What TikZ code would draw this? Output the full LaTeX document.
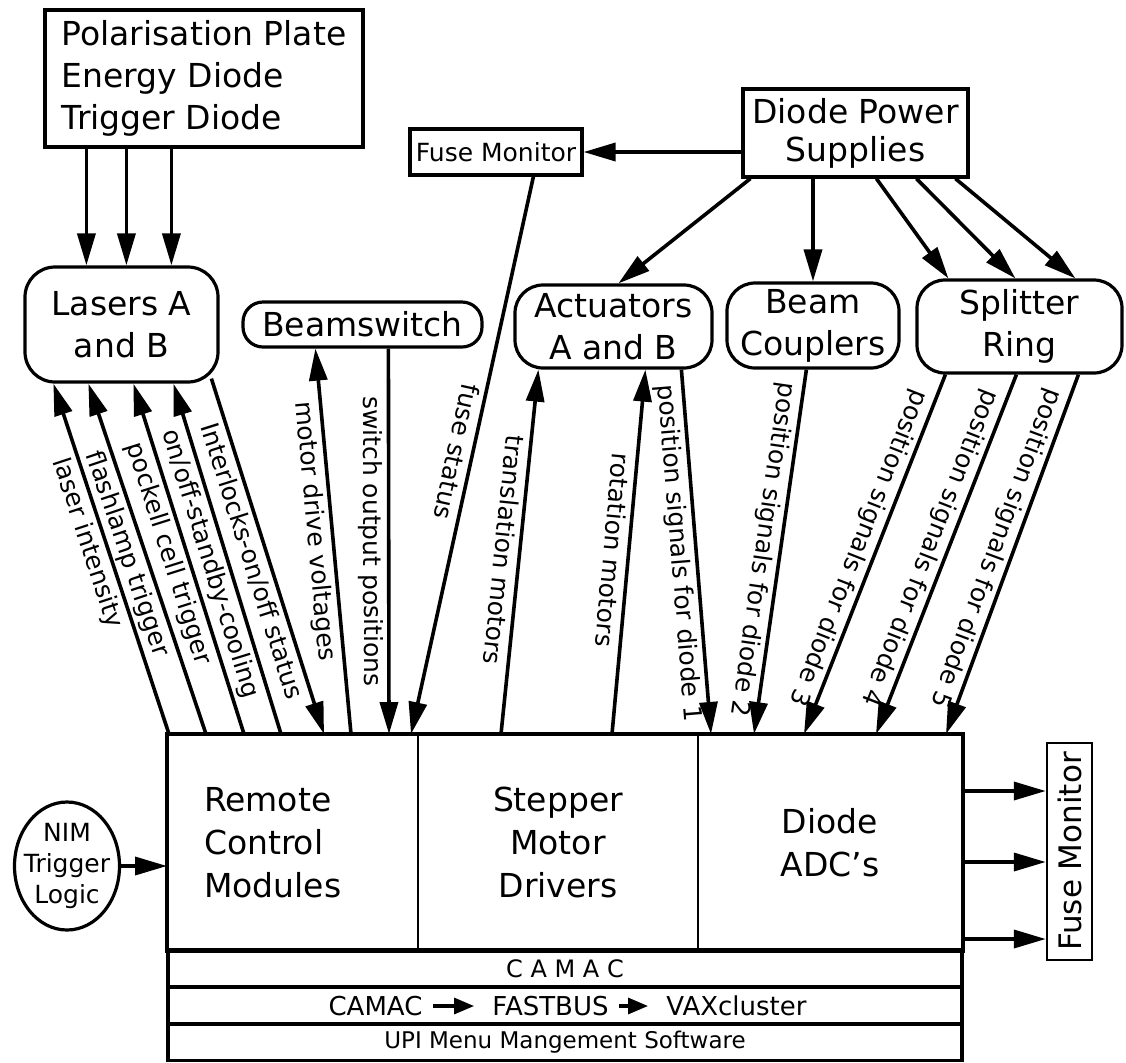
\documentclass[tikz,border=0pt]{standalone}
\usepackage{fontspec}
\setmainfont{DejaVu Sans}
\usetikzlibrary{shapes,arrows.meta,calc,positioning}

\begin{document}
\begin{tikzpicture}[x=0.5pt, y=-0.5pt,
    >={Triangle[length=16pt,width=9pt]},
    box/.style={draw, line width=1.6pt, inner sep=0pt, align=center, font=\fontsize{16.5}{21}\selectfont},
    unit/.style={box, rounded corners=14pt},
    slot/.style={draw, line width=1pt, inner sep=0pt, minimum height=107.5pt, align=center, font=\fontsize{16.5}{21.5}\selectfont},
    bar/.style={draw, line width=1.6pt, inner sep=0pt, minimum width=397pt, minimum height=18.5pt, font=\fontsize{12}{14}\selectfont},
    busname/.style={inner sep=2pt, font=\fontsize{13}{14}\selectfont},
    busarrow/.style={line width=1.6pt, -{Triangle[length=10pt,width=8pt]}, shorten <=3pt, shorten >=7pt},
    sig/.style={line width=1.8pt},
    tag/.style={midway, sloped, allow upside down, below, inner sep=2pt, font=\fontsize{12.5}{14}\selectfont}]

    \useasboundingbox (0,0) rectangle (1126,1062);

    \node[box, align=left, minimum width=159pt, minimum height=68.5pt] (sensors) at (204,78.5) {Polarisation Plate\\Energy Diode\\Trigger Diode};
    \node[box, minimum width=86pt, minimum height=23pt, font=\fontsize{12.5}{14}\selectfont] (fusetop) at (496,152) {Fuse Monitor};
    \node[box, minimum width=112.5pt, minimum height=44pt, font=\fontsize{16.5}{19}\selectfont] (dps) at (855.5,133) {Diode Power\\Supplies};

    \node[unit, rounded corners=15pt, minimum width=96.5pt, minimum height=57.5pt] (lasers) at (121.5,324.5) {Lasers A\\and B};
    \node[unit, rounded corners=10pt, minimum width=119.5pt, minimum height=22.5pt] (bswitch) at (362.5,324.5) {Beamswitch};
    \node[unit, minimum width=98.5pt, minimum height=41.5pt] (act) at (613.5,326.5) {Actuators\\A and B};
    \node[unit, minimum width=86pt, minimum height=42.5pt] (bc) at (813,325.5) {Beam\\Couplers};
    \node[unit, minimum width=102.5pt, minimum height=46.5pt] (ring) at (1019.5,326.5) {Splitter\\Ring};

    \node[slot, minimum width=125pt, text width=89pt, inner xsep=18pt, align=left] (remote) at (293,842.5) {Remote\\Control\\Modules};
    \node[slot, minimum width=140pt] (stepper) at (558,842.5) {Stepper\\Motor\\Drivers};
    \node[slot, minimum width=132pt] (adc) at (830,842.5) {Diode\\ADC's};
    \draw[line width=1.6pt] (remote.north west) rectangle (adc.south east);

    \node[bar] (camac) at (565,968.5) {C A M A C};
    \node[bar] (link) at (565,1005.5) {};
    \node[bar, font=\fontsize{11.5}{14}\selectfont] (upi) at (565,1042) {UPI Menu Mangement Software};
    \node[busname] (camacB) at (375.5,1006) {CAMAC};
    \node[busname] (fastbus) at (550.5,1006) {FASTBUS};
    \node[busname] (vax) at (736.5,1006) {VAXcluster};
    \draw[busarrow] (camacB) -- (fastbus);
    \draw[busarrow] (fastbus) -- (vax);

    \node[draw, ellipse, line width=1.6pt, minimum width=52.5pt, minimum height=64pt, inner sep=0pt,
          label={[font=\fontsize{12.5}{15.5}\selectfont, align=center]center:NIM\\Trigger\\Logic}] (nim) at (67,866) {};
    \draw[sig,->] (nim.east) -- (nim.east -| remote.west);

    \node[box, line width=1.2pt, rotate=90, minimum width=108.5pt, minimum height=22.5pt, font=\fontsize{15.5}{18}\selectfont] (fuseright) at (1069.5,851.5) {Fuse Monitor};
    \foreach \dy in {57,128,205} {
        \path ($(adc.north east)+(0,\dy)$) coordinate (out);
        \draw[sig,->] (out) -- (out -| fuseright.north);
    }

    \foreach \a/\b in {43/63, 83/103, 128/148}
        \draw[sig,->] ($(sensors.south west)+(\a,0)$) -- ($(lasers.north west)+(\b,0)$);

    \draw[sig,->] (dps.west |- fusetop.east) -- (fusetop.east);
    \draw[sig,->] ($(dps.south west)+(9,0)$) -- ($(act.north west)+(105,0)$);
    \draw[sig,->] (bc.north |- dps.south) -- (bc.north);
    \foreach \a/\b in {135/33, 175/100, 214/160}
        \draw[sig,->] ($(dps.south west)+(\a,0)$) -- ($(ring.north west)+(\b,0)$);

    \draw[sig,<-] ($(lasers.south west)+(30,0)$) -- node[tag, pos=0.44] {laser intensity} ($(remote.north west)+(2,0)$);
    \draw[sig,<-] ($(lasers.south west)+(65,0)$) -- node[tag, pos=0.47] {flashlamp trigger} ($(remote.north west)+(39,0)$);
    \draw[sig,<-] ($(lasers.south west)+(110,0)$) -- node[tag, pos=0.47] {pockell cell trigger} ($(remote.north west)+(77,0)$);
    \draw[sig,<-] ($(lasers.south west)+(150,0)$) -- node[tag] {on/off-standby-cooling} ($(remote.north west)+(114,0)$);
    \draw[sig,->] ($(lasers.south west)+(188,-5)$) -- node[tag] {Interlocks-on/off status} ($(remote.north west)+(157,0)$);

    \draw[sig,<-] ($(bswitch.south west)+(74,0)$) -- node[tag, pos=0.47] {motor drive voltages} ($(remote.north west)+(184,0)$);
    \draw[sig,->] ($(bswitch.south west)+(147,0)$) -- node[tag] {switch output positions} ($(remote.north west)+(222,0)$);
    \draw[sig,->] ($(fusetop.south west)+(125,0)$) -- node[tag] {fuse status} ($(remote.north west)+(244,0)$);

    \draw[sig,<-] ($(act.south west)+(25,0)$) -- node[tag] {translation motors} ($(stepper.north west)+(84,0)$);
    \draw[sig,<-] ($(act.south west)+(132,0)$) -- node[tag] {rotation motors} ($(stepper.north west)+(195,0)$);
    \draw[sig,->] ($(act.south west)+(168,0)$) -- node[tag] {position signals for diode 1} ($(adc.north west)+(14,0)$);
    \draw[sig,->] ($(bc.south west)+(81,0)$) -- node[tag] {position signals for diode 2} ($(adc.north west)+(57,0)$);
    \foreach \a/\b/\n in {30/107/3, 101/179/4, 163/249/5}
        \draw[sig,->] ($(ring.south west)+(\a,0)$) -- node[tag] {position signals for diode \n} ($(adc.north west)+(\b,0)$);
\end{tikzpicture}
\end{document}
